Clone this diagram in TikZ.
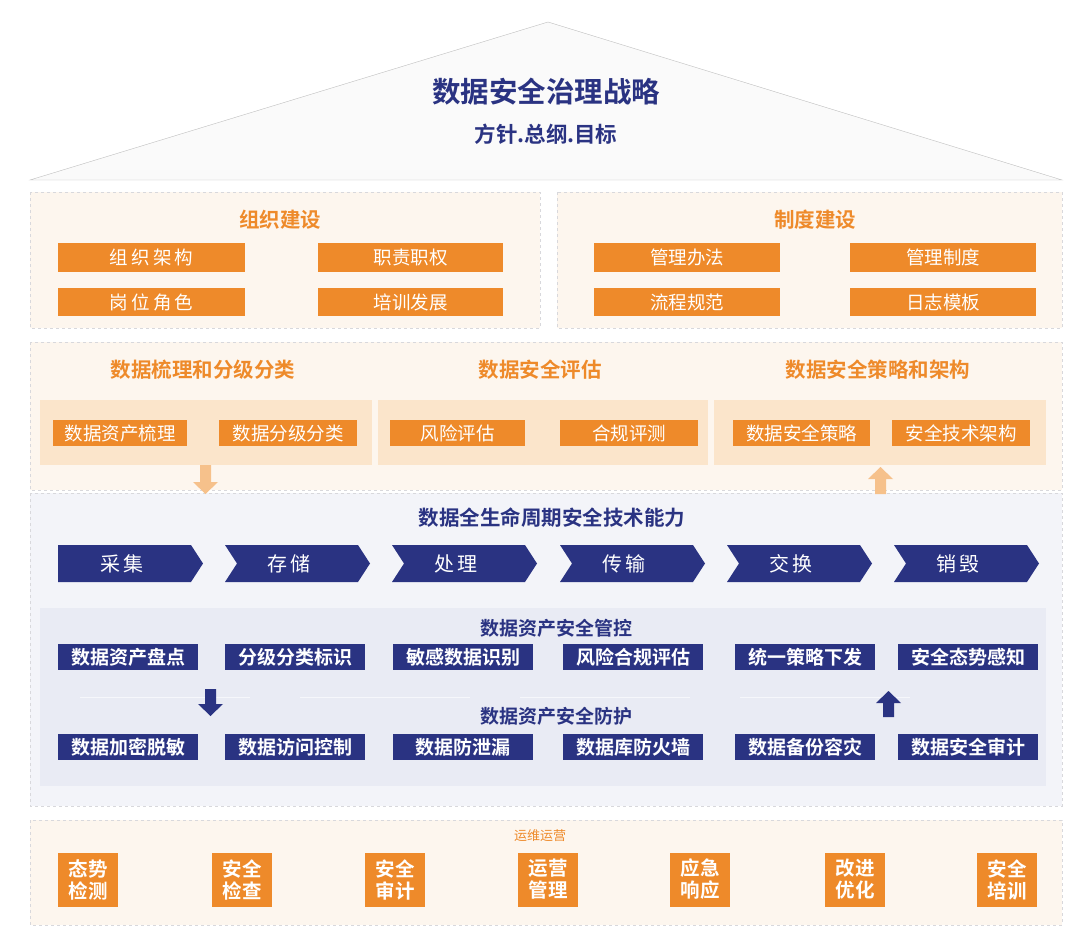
\documentclass[tikz,border=0pt]{standalone}
\usepackage{fontspec}
\setmainfont{Noto Sans CJK SC}
\newfontfamily\cjkb{Noto Sans CJK SC Bold}
\usetikzlibrary{arrows.meta,shapes.arrows}
\definecolor{org}{HTML}{EE8A2A}
\definecolor{navy}{HTML}{2A3382}
\definecolor{lorg}{HTML}{FDF6EE}
\definecolor{morg}{HTML}{FBE5CB}
\definecolor{lblue}{HTML}{F3F4F9}
\definecolor{iblue}{HTML}{E9EBF4}
\definecolor{dash}{HTML}{D8D8DC}
\tikzset{
 panel/.style={draw=dash,dashed,fill=lorg},
 obox/.style={fill=org,text=white,font=\fontsize{18.5}{18}\selectfont},
 nbox/.style={fill=navy,text=white,font=\cjkb\fontsize{19}{19}\selectfont},
 otitle/.style={text=org,font=\cjkb\fontsize{20.5}{21}\selectfont},
 ntitle/.style={text=navy,font=\cjkb\fontsize{20.5}{21}\selectfont},
 sq/.style={fill=org,text=white,font=\cjkb\fontsize{19.5}{22}\selectfont,align=center,minimum width=60pt,minimum height=54pt,inner sep=0pt},
 chev/.style={fill=navy},
 ctext/.style={text=white,font=\fontsize{20}{20}\selectfont}
}
\begin{document}
\begin{tikzpicture}[x=1pt,y=-1pt]
\useasboundingbox[fill=white] (0,0) rectangle (1080,950);
% roof
\path[fill=white!96!gray,draw=gray!50] (30,180) -- (548,22) -- (1062,180) -- cycle;
\node[text=navy,font=\cjkb\fontsize{28.5}{28}\selectfont] (t) at (546,92) {数据安全治理战略};
\node[text=navy,font=\cjkb\fontsize{21.5}{21}\selectfont] (st) at (546,134) {方针.总纲.目标};
% org / system panels
\path[panel] (30,192) rectangle (540,328);
\path[panel] (557,192) rectangle (1062,328);
\node[otitle] (p1) at (280,220) {组织建设};
\node[otitle] (p2) at (815,220) {制度建设};
\foreach \a/\b/\c/\d/\t [count=\i] in {
58/243/245/272/组\,织\,架\,构, 318/243/503/272/职责职权,
58/288/245/316/岗\,位\,角\,色, 318/288/503/316/培训发展,
594/243/780/272/管理办法, 850/243/1036/272/管理制度,
594/288/780/316/流程规范, 850/288/1036/316/日志模板}{
 \path[fill=org] (\a,\b) rectangle (\c,\d);
 \node[obox,fill=none] (ob\i) at ({(\a+\c)/2},{(\b+\d)/2}) {\t};
}
% middle panel
\path[panel] (30,342) rectangle (1062,490);
\node[otitle] (m1) at (203,370) {数据梳理和分级分类};
\node[otitle] (m2) at (540,370) {数据安全评估};
\node[otitle] (m3) at (878,370) {数据安全策略和架构};
\path[fill=morg] (40,400) rectangle (372,465);
\path[fill=morg] (378,400) rectangle (708,465);
\path[fill=morg] (714,400) rectangle (1046,465);
\foreach \a/\c/\t [count=\i] in {53/187/数据资产梳理, 219/357/数据分级分类, 390/525/风险评估, 560/698/合规评测, 733/870/数据安全策略, 892/1030/安全技术架构}{
 \path[fill=org] (\a,420) rectangle (\c,446);
 \node[obox,fill=none] (mb\i) at ({(\a+\c)/2},433) {\t};
}
% blue panel
\path[draw=dash,dashed,fill=lblue] (30,493) rectangle (1062,806);
\node[ntitle] (lc) at (552,518) {数据全生命周期安全技术能力};
\foreach \x/\t [count=\i] in {58/采\,集, 225/存\,储, 392/处\,理, 560/传\,输, 727/交\,换, 894/销\,毁}{
 \ifnum\i=1
  \path[chev] (\x,545) -- (\x+133,545) -- (\x+145,563.5) -- (\x+133,582) -- (\x,582) -- cycle;
 \else
  \path[chev] (\x,545) -- (\x+133,545) -- (\x+145,563.5) -- (\x+133,582) -- (\x,582) -- (\x+12,563.5) -- cycle;
 \fi
 \node[ctext] (c\i) at (\x+64,563.5) {\t};
}
\path[fill=iblue] (40,608) rectangle (1046,786);
\node[ntitle,font=\cjkb\fontsize{19}{19}\selectfont] (g1) at (556,628) {数据资产安全管控};
\node[ntitle,font=\cjkb\fontsize{19}{19}\selectfont] (g2) at (556,716) {数据资产安全防护};
\foreach \x in {80,300,520,740}{\draw[white!60!iblue,line width=1pt] (\x,697) -- (\x+170,697);}
\foreach \a/\c/\t [count=\i] in {58/198/数据资产盘点, 225/365/分级分类标识, 393/533/敏感数据识别, 563/703/风险合规评估, 735/875/统一策略下发, 898/1038/安全态势感知}{
 \path[fill=navy] (\a,644) rectangle (\c,670);
 \node[nbox,fill=none] (na\i) at ({(\a+\c)/2},657) {\t};
}
\foreach \a/\c/\t [count=\i] in {58/198/数据加密脱敏, 225/365/数据访问控制, 393/533/数据防泄漏, 563/703/数据库防火墙, 735/875/数据备份容灾, 898/1038/数据安全审计}{
 \path[fill=navy] (\a,734) rectangle (\c,760);
 \node[nbox,fill=none] (nb\i) at ({(\a+\c)/2},747) {\t};
}
% arrows
\path[fill=morg!60!org] (200,465) -- (211,465) -- (211,482) -- (218,482) -- (205.5,494) -- (193,482) -- (200,482) -- cycle;
\path[fill=morg!60!org] (875,494) -- (886,494) -- (886,479) -- (893,479) -- (880.5,467) -- (868,479) -- (875,479) -- cycle;
\path[fill=navy] (205,689) -- (216,689) -- (216,704) -- (223,704) -- (210.5,716) -- (198,704) -- (205,704) -- cycle;
\path[fill=navy] (883,717) -- (894,717) -- (894,703) -- (901,703) -- (888.5,691) -- (876,703) -- (883,703) -- cycle;
% bottom panel
\path[panel] (30,820) rectangle (1062,925);
\node[text=org,font=\fontsize{13}{13}\selectfont] (yy) at (540,836) {运维运营};
\foreach \x/\t [count=\i] in {88/态势\\检测, 242/安全\\检查, 395/安全\\审计, 548/运营\\管理, 700/应急\\响应, 855/改进\\优化, 1007/安全\\培训}{
 \node[sq] (s\i) at (\x,879.5) {\t};
}
\end{tikzpicture}
\end{document}
